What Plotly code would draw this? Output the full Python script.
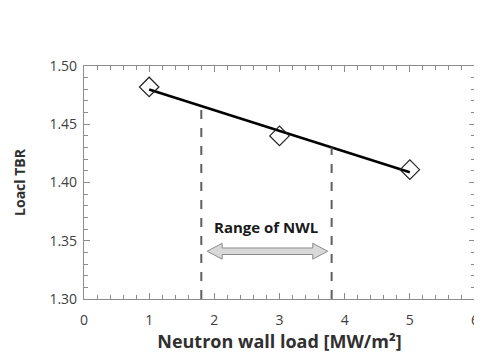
import plotly.graph_objects as go
import numpy as np

nwl = [1, 3, 5]
tbr = [1.482, 1.440, 1.411]
range_bounds = [1.8, 3.8]
x_ticks = [0, 1, 2, 3, 4, 5, 6]
y_ticks = [1.30, 1.35, 1.40, 1.45, 1.50]

coef = np.polyfit(nwl, tbr, 1)
fit_x = [nwl[0], nwl[-1]]
fit_y = [coef[0] * v + coef[1] for v in fit_x]

fig = go.Figure()
fig.add_trace(go.Scatter(x=fit_x, y=fit_y, mode="lines",
                         line=dict(color="black", width=2.5), showlegend=False))
fig.add_trace(go.Scatter(x=nwl, y=tbr, mode="markers",
                         marker=dict(symbol="diamond-open", size=15,
                                     color="#222222", line=dict(width=1.2)),
                         showlegend=False))

for b in range_bounds:
    top = coef[0] * b + coef[1]
    fig.add_shape(type="line", x0=b, x1=b, y0=1.30, y1=top, xref="x", yref="y",
                  line=dict(color="#606060", width=2, dash="dash"))

# double-headed block arrow between range bounds
xl, xr = 1.89, 3.74
yc, hb, hh, hl = 1.341, 0.0028, 0.0068, 0.23
path = (f"M {xl} {yc} L {xl+hl} {yc+hh} L {xl+hl} {yc+hb} L {xr-hl} {yc+hb} "
        f"L {xr-hl} {yc+hh} L {xr} {yc} L {xr-hl} {yc-hh} L {xr-hl} {yc-hb} "
        f"L {xl+hl} {yc-hb} L {xl+hl} {yc-hh} Z")
fig.add_shape(type="path", path=path, xref="x", yref="y",
              fillcolor="#d9d9d9", line=dict(color="#8c8c8c", width=1))

fig.add_annotation(x=2.8, y=1.362, text="<b>Range of NWL</b>", showarrow=False,
                   font=dict(size=15, color="#1a1a1a", family="Open Sans"))

axis_common = dict(showline=True, linecolor="#8c8c8c", linewidth=1.2, mirror="allticks",
                   ticks="inside", ticklen=6, tickcolor="#8c8c8c", showgrid=False,
                   zeroline=False, ticklabeloverflow="allow",
                   tickfont=dict(size=14, color="#404040", family="Open Sans"))

fig.update_xaxes(range=[0, 6], tickvals=x_ticks, ticktext=[str(v) for v in x_ticks],
                 minor=dict(dtick=0.2, ticks="inside", ticklen=4, tickcolor="#8c8c8c"),
                 ticklabelstandoff=8,
                 title=dict(text="<b>Neutron wall load [MW/m²]</b>", standoff=6,
                            font=dict(size=18, color="#303030", family="Open Sans")),
                 **axis_common)
fig.update_yaxes(range=[1.30, 1.50], tickvals=y_ticks, ticktext=[f"{v:.2f}" for v in y_ticks],
                 minor=dict(dtick=0.01, ticks="inside", ticklen=4, tickcolor="#8c8c8c"),
                 ticklabelstandoff=3,
                 title=dict(text="<b>Loacl TBR</b>", standoff=20,
                            font=dict(size=14, color="#303030", family="Open Sans")),
                 **axis_common)

fig.update_layout(width=482, height=358, margin=dict(l=76, r=11, t=58, b=67),
                  plot_bgcolor="white", paper_bgcolor="white")
fig.write_html("out.html")
